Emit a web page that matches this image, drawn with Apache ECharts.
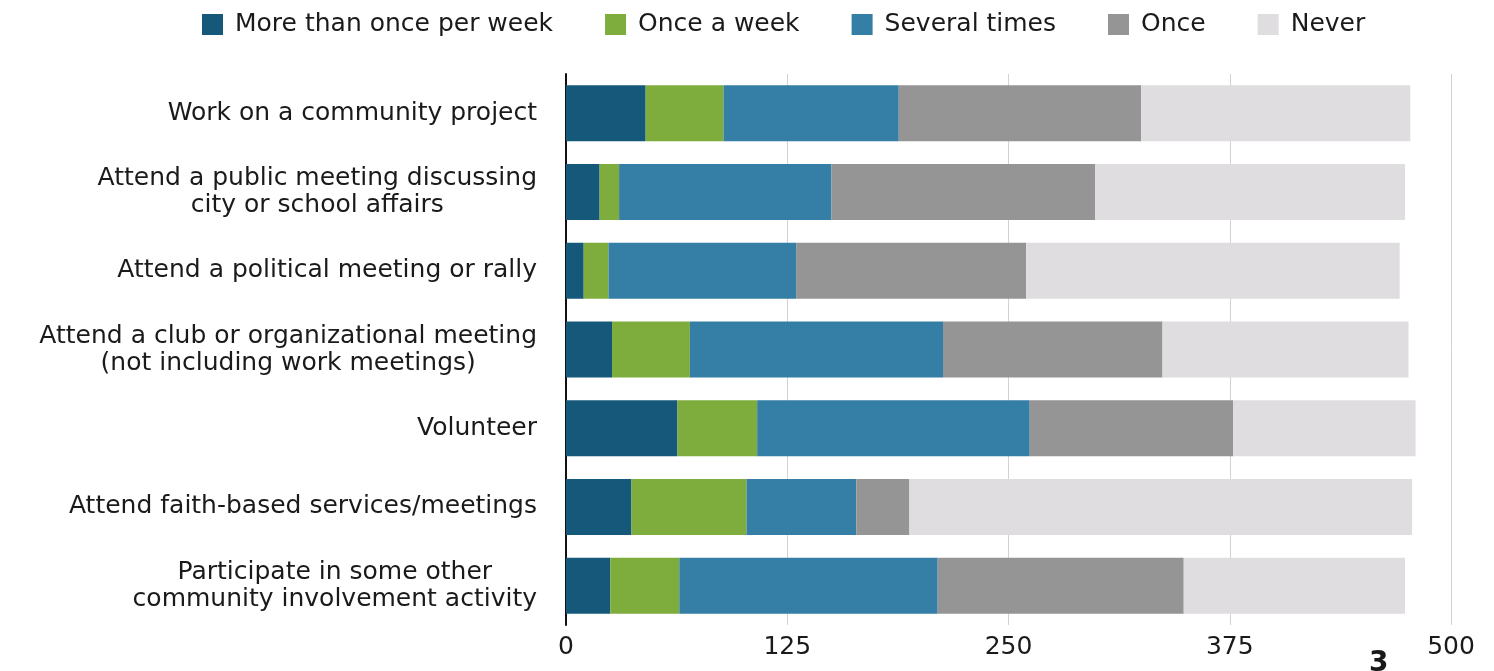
<!DOCTYPE html>
<html>
<head>
<meta charset="UTF-8">
<title>Community involvement</title>
<script src="https://cdn.jsdelivr.net/npm/echarts@6/dist/echarts.min.js"></script>
<style>
  html, body { margin: 0; padding: 0; background: #fff; }
  #chart { width: 1494px; height: 671px; }
</style>
</head>
<body>
<div id="chart"></div>
<script type="text/javascript">
	// categories, top to bottom
	var categories = [
		'Work on a community project',
		'Attend a public meeting discussing\ncity or school affairs',
		'Attend a political meeting or rally',
		'Attend a club or organizational meeting\n(not including work meetings)',
		'Volunteer',
		'Attend faith-based services/meetings',
		'Participate in some other\ncommunity involvement activity'
	];
	var seriesNames = ['More than once per week', 'Once a week', 'Several times', 'Once', 'Never'];
	var moreThanOnce = [45, 19, 10, 26, 63, 37, 25];
	var onceAWeek    = [44, 11, 14, 44, 45, 65, 39];
	var severalTimes = [99, 120, 106, 143, 154, 62, 146];
	var once         = [137, 149, 130, 124, 115, 30, 139];
	var never        = [152, 175, 211, 139, 103, 284, 125];
	var xTicks = [0, 125, 250, 375, 500];

	var colors = ['#16587a', '#7eac3d', '#357ea6', '#959595', '#dfdde0'];
	var values = [moreThanOnce, onceAWeek, severalTimes, once, never];
	var font = 'DejaVu Sans';
	var fs = 25;

	var myChart = echarts.init(document.getElementById('chart'));

	var series = [];
	for (var i = 0; i < seriesNames.length; i++) {
		series.push({
			name: seriesNames[i],
			type: 'bar',
			stack: 'total',
			barWidth: 56,
			itemStyle: { color: colors[i] },
			data: values[i].slice().reverse()
		});
	}

	var option = {
		animation: false,
		textStyle: { fontFamily: font },
		legend: {
			left: 197,
			top: 7,
			itemWidth: 21,
			itemHeight: 21,
			itemGap: 52,
			icon: 'rect',
			textStyle: { fontSize: fs, color: '#1a1a1a', fontFamily: font, padding: [0, 0, 0, 7] },
			data: seriesNames
		},
		grid: { left: 566, right: 43, top: 74, bottom: 46, containLabel: false },
		xAxis: {
			type: 'value',
			min: xTicks[0],
			max: xTicks[xTicks.length - 1],
			interval: 125,
			axisLine: { show: false },
			axisTick: { show: false },
			axisLabel: { fontSize: fs, color: '#1a1a1a', margin: 10, fontFamily: font },
			splitLine: { show: true, lineStyle: { color: '#d2d2d2', width: 1 } }
		},
		yAxis: {
			type: 'category',
			data: categories.slice().reverse(),
			axisLine: { show: true, lineStyle: { color: '#111', width: 2 } },
			axisTick: { show: false },
			axisLabel: {
				margin: 29,
				fontSize: fs,
				color: '#1a1a1a',
				fontFamily: font,
				lineHeight: 27,
				formatter: function (v) {
					return v.split('\n').map(function (s) { return '{c|' + s + '}'; }).join('\n');
				},
				rich: { c: { align: 'center', fontSize: fs, lineHeight: 27, color: '#1a1a1a', fontFamily: font } }
			}
		},
		graphic: [{
			type: 'text',
			left: 1369,
			top: 650,
			style: { text: '3', fontSize: 28, fontWeight: 'bold', fill: '#1a1a1a', fontFamily: font }
		}],
		series: series
	};

	myChart.setOption(option);
</script>
</body>
</html>
